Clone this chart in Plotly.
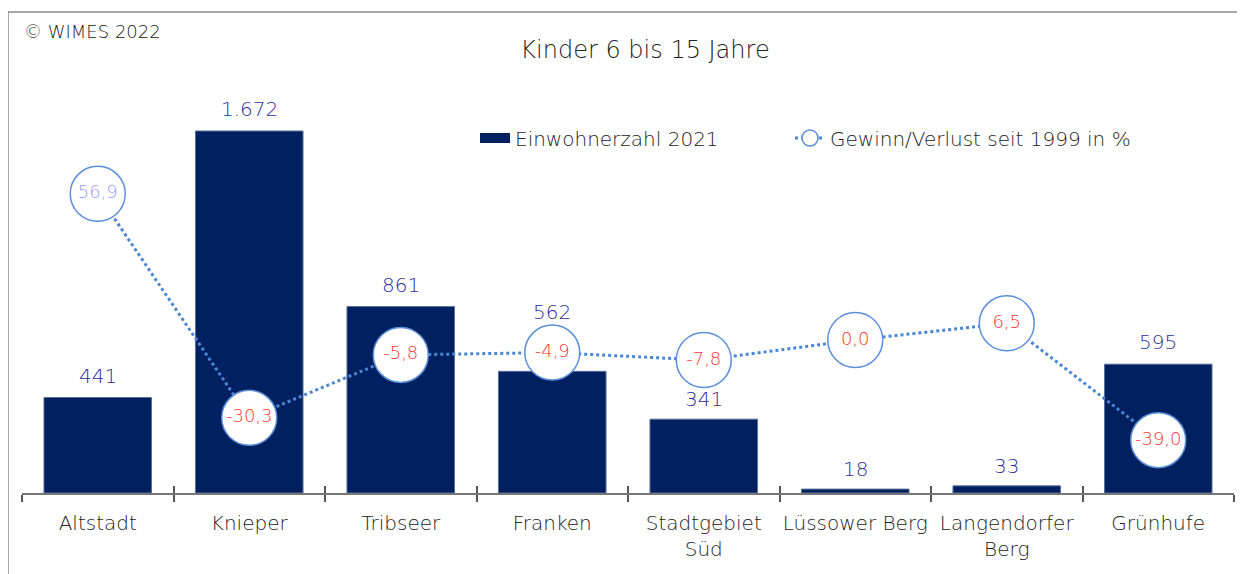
import plotly.graph_objects as go

categories = ["Altstadt", "Knieper", "Tribseer", "Franken", "Stadtgebiet<br>Süd",
              "Lüssower Berg", "Langendorfer<br>Berg", "Grünhufe"]
einwohner = [441, 1672, 861, 562, 341, 18, 33, 595]
einwohner_labels = ["441", "1.672", "861", "562", "341", "18", "33", "595"]
veraenderung = [56.9, -30.3, -5.8, -4.9, -7.8, 0.0, 6.5, -39.0]
veraenderung_labels = ["56,9", "-30,3", "-5,8", "-4,9", "-7,8", "0,0", "6,5", "-39,0"]
label_colors = ["#9999ff" if v > 20 else "#ff3333" for v in veraenderung]

FONT = "DejaVu Sans"
WT = 200
TXT = "#222222"
OFF = 8  # page body margin
W, H = 1245 - OFF, 574 - OFF
L, T = 22 - OFF, 80 - OFF
R = W - (1234 - OFF)
B = H - (493 - OFF)
ph = H - T - B
pw = W - L - R

fig = go.Figure()
fig.add_trace(go.Bar(
    x=categories, y=einwohner, name="Einwohnerzahl 2021", showlegend=False,
    marker=dict(color="#002060", line=dict(color="#5a6f99", width=1)),
    width=0.71,
))
# legend entry for bars (wide swatch)
fig.add_trace(go.Scatter(
    x=[None], y=[None], mode="lines", name="Einwohnerzahl 2021", legend="legend",
    line=dict(color="#002060", width=17),
))
fig.add_trace(go.Scatter(
    x=categories, y=veraenderung, yaxis="y2", name="Gewinn/Verlust seit 1999 in %",
    legend="legend2",
    mode="lines+markers+text",
    line=dict(color="#4a86d4", width=3, dash="dot"),
    marker=dict(size=55, color="white", line=dict(color="#5b8fd9", width=1.5)),
    text=veraenderung_labels, textposition="middle center",
    textfont=dict(color=label_colors, size=18, family=FONT, weight=WT),
    cliponaxis=False,
))
# overlay axis for the inner half of tick marks
fig.add_trace(go.Scatter(x=categories, y=[0] * len(categories), xaxis="x2",
                         mode="markers", marker=dict(opacity=0), showlegend=False,
                         hoverinfo="skip"))

# bar value labels (shift upward where a circle sits on top)
label_shift = [8, 8, 8, 45, 6, 6, 6, 8]
for cat, val, lab, sh in zip(categories, einwohner, einwohner_labels, label_shift):
    fig.add_annotation(x=cat, y=val, text=lab, showarrow=False, yanchor="bottom",
                       yshift=sh, font=dict(size=20, color="#2e2e99", family=FONT, weight=WT))

legend_common = dict(orientation="h", xanchor="left", yanchor="middle",
                     y=(493 - 138) / ph,
                     font=dict(size=20, color=TXT, family=FONT, weight=WT),
                     bgcolor="rgba(0,0,0,0)")

fig.update_layout(
    width=W, height=H,
    margin=dict(l=L, r=R, t=T, b=B, autoexpand=False),
    paper_bgcolor="white", plot_bgcolor="white",
    font=dict(family=FONT, color=TXT, weight=WT),
    title=dict(text="Kinder 6 bis 15 Jahre", x=(645 - 22) / pw, xref="paper", xanchor="center",
               y=1 - (50 - OFF) / H, yref="container", yanchor="middle",
               font=dict(size=24, color=TXT, family=FONT, weight=WT)),
    xaxis=dict(type="category", tickson="boundaries", ticks="outside", ticklen=7,
               tickcolor="#555555", tickwidth=1.5, showline=True, linecolor="#777777",
               linewidth=1.5, showgrid=False, range=[-0.5, 7.5], ticklabelstandoff=11,
               tickangle=0, automargin=False,
               tickfont=dict(size=20, color=TXT, family=FONT, weight=WT)),
    xaxis2=dict(type="category", overlaying="x", tickson="boundaries", ticks="inside",
                ticklen=7, tickcolor="#555555", tickwidth=1.5, showticklabels=False,
                showgrid=False, showline=False, range=[-0.5, 7.5], side="bottom",
                anchor="y", automargin=False),
    yaxis=dict(range=[0, ph / 0.2165], visible=False, showgrid=False),
    yaxis2=dict(range=[-(493 - 340) / 2.569, (340 - 80) / 2.569], overlaying="y",
                visible=False, showgrid=False),
    bargap=0.29,
    legend=dict(x=(475 - 22) / pw, **legend_common),
    legend2=dict(x=(790 - 22) / pw, **legend_common),
    showlegend=True,
)

fig.add_annotation(text="© WIMES 2022", xref="paper", yref="paper",
                   x=0, y=(493 - 32) / ph, xanchor="left", yanchor="middle",
                   showarrow=False, font=dict(size=18, color=TXT, family=FONT, weight=WT))

fig.add_shape(type="rect", xref="paper", yref="paper",
              x0=(8 - 22) / pw, x1=(1243 - 22) / pw,
              y0=(493 - 580) / ph, y1=(493 - 12) / ph,
              line=dict(color="#8a8a8a", width=1.5), fillcolor="rgba(0,0,0,0)", layer="below")

fig.write_html("out.html")
